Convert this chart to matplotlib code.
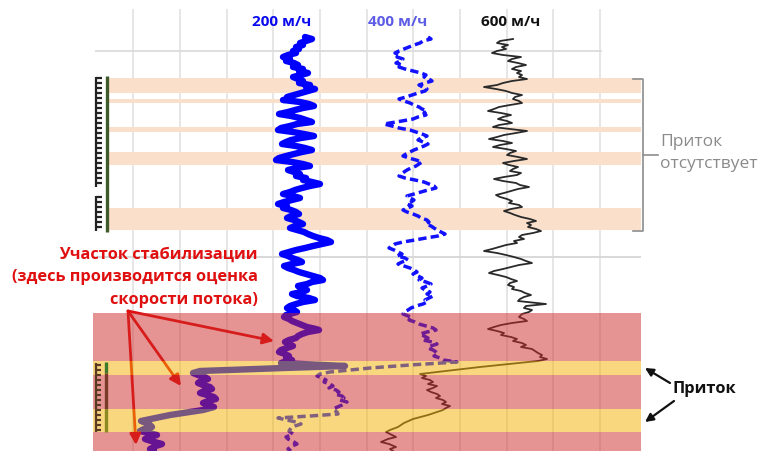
import matplotlib
matplotlib.use('Agg')
import matplotlib.pyplot as plt
from matplotlib.patches import Rectangle

# ---------------- data ----------------
speed_labels = ['200 м/ч', '400 м/ч', '600 м/ч']

depth_200 = [38, 40, 42, 44, 46, 48, 50, 52, 54, 56, 58, 60, 62, 64, 66, 68, 70, 72, 74, 76, 78, 80,
             82, 84, 86, 88, 90, 92, 94, 96, 98, 100, 101, 103, 105, 107, 109, 111, 113, 115, 117,
             119, 121, 123, 125, 127, 129, 131, 133, 135, 137, 139, 141, 143, 145, 147, 149, 151,
             153, 155, 157, 159, 161, 163, 165, 167, 169, 171, 173, 175, 177, 179, 181, 183, 185,
             187, 189, 191, 193, 195, 197, 199, 201, 203, 205, 207, 209, 211, 213, 215, 217, 219,
             221, 223, 225, 227, 229, 231, 233, 235, 237, 239, 241, 243, 245, 247, 249, 251, 253,
             255, 257, 259, 261, 263, 265, 267, 269, 271, 273, 275, 277, 279, 281, 283, 285, 287,
             289, 291, 293, 295, 297, 299, 301, 303, 305, 307, 309, 311, 313, 316, 318, 320, 322,
             324, 326, 328, 330, 331, 333, 335, 337, 339, 341, 343, 345, 347, 349, 351, 353, 355,
             357, 359, 361, 364, 367, 369, 372, 374, 376, 378, 380, 382, 384, 386, 388, 390, 392,
             394, 396, 398, 400, 402, 404, 406, 408, 411, 416, 422, 425, 428, 430, 432, 434, 436,
             438, 440, 442, 445, 447, 450, 452]
pos_200 = [305, 312, 306, 300, 303, 296, 299, 293, 296, 288, 283, 290, 286, 294, 298, 293, 303, 299,
           308, 301, 293, 298, 303, 299, 310, 306, 315, 308, 301, 294, 287, 292, 283, 300, 309, 314,
           303, 295, 288, 279, 291, 300, 306, 312, 297, 290, 281, 278, 293, 304, 314, 301, 291, 286,
           282, 296, 305, 312, 302, 294, 286, 279, 276, 292, 303, 310, 296, 288, 294, 300, 296, 306,
           303, 312, 320, 310, 302, 295, 290, 283, 293, 300, 292, 284, 278, 287, 283, 291, 296, 299,
           291, 287, 294, 299, 303, 295, 290, 297, 304, 308, 313, 319, 327, 331, 322, 313, 305, 296,
           289, 282, 288, 292, 298, 302, 292, 284, 288, 294, 299, 306, 313, 320, 323, 312, 307, 298,
           301, 307, 302, 292, 297, 309, 315, 303, 296, 290, 287, 294, 297, 286, 284, 289, 292, 297,
           302, 307, 316, 319, 308, 302, 298, 296, 289, 285, 289, 293, 287, 281, 279, 285, 289, 286,
           292, 281, 345, 284, 200, 193, 198, 205, 208, 201, 198, 203, 210, 212, 204, 200, 207, 214,
           216, 208, 203, 209, 214, 203, 170, 141, 149, 152, 144, 140, 149, 157, 150, 145, 151, 162,
           156, 150, 154]

depth_400 = [38, 40, 42, 44, 46, 48, 50, 52, 54, 56, 58, 60, 62, 64, 66, 68, 70, 72, 74, 76, 78, 80,
             82, 84, 86, 88, 90, 92, 94, 96, 98, 100, 102, 104, 106, 108, 110, 112, 114, 116, 118,
             120, 122, 124, 125, 127, 129, 131, 133, 135, 137, 139, 141, 143, 145, 147, 149, 151,
             153, 155, 157, 159, 161, 163, 165, 167, 169, 171, 173, 175, 177, 179, 181, 183, 185,
             187, 189, 191, 193, 195, 197, 199, 201, 203, 205, 207, 209, 211, 213, 215, 217, 219,
             221, 223, 225, 227, 229, 231, 233, 235, 237, 239, 241, 243, 245, 247, 249, 251, 253,
             255, 257, 259, 261, 263, 265, 267, 269, 271, 273, 275, 277, 279, 281, 283, 285, 287,
             289, 291, 293, 295, 297, 299, 301, 303, 305, 307, 309, 311, 313, 315, 317, 319, 321,
             323, 325, 327, 329, 331, 333, 335, 337, 339, 341, 343, 345, 347, 349, 351, 353, 355,
             357, 359, 361, 363, 366, 369, 373, 375, 377, 379, 381, 383, 385, 387, 389, 391, 393,
             395, 397, 399, 401, 403, 406, 410, 413, 415, 417, 419, 421, 423, 425, 427, 429, 432,
             435, 438, 440, 443, 445, 447, 450, 452]
pos_400 = [428, 431, 423, 420, 414, 409, 404, 399, 395, 400, 397, 403, 400, 396, 402, 399, 405, 413,
           421, 426, 424, 429, 432, 425, 419, 423, 427, 425, 418, 412, 406, 399, 404, 410, 414, 419,
           422, 427, 424, 426, 418, 413, 402, 390, 384, 392, 399, 410, 416, 422, 427, 421, 418, 423,
           428, 424, 419, 414, 410, 406, 403, 409, 416, 422, 419, 416, 411, 407, 404, 401, 399, 405,
           415, 424, 429, 434, 436, 428, 421, 414, 407, 410, 414, 411, 407, 412, 408, 403, 407, 413,
           418, 421, 427, 429, 426, 431, 434, 437, 441, 445, 438, 426, 415, 403, 395, 392, 389, 394,
           398, 402, 397, 405, 408, 402, 398, 404, 410, 414, 417, 413, 418, 422, 419, 426, 431, 427,
           422, 425, 430, 427, 433, 429, 425, 427, 423, 416, 411, 408, 404, 403, 408, 412, 409, 415,
           419, 426, 433, 436, 427, 420, 424, 428, 423, 432, 437, 431, 428, 433, 436, 438, 434, 440,
           443, 457, 410, 370, 330, 320, 317, 322, 326, 324, 330, 333, 329, 336, 339, 335, 342, 344,
           340, 347, 342, 333, 337, 338, 310, 278, 287, 296, 301, 295, 291, 289, 293, 286, 288, 294,
           297, 292, 288, 291]

depth_600 = [40, 42, 44, 46, 48, 50, 52, 54, 56, 58, 60, 62, 64, 66, 68, 70, 72, 74, 76, 78, 80, 82,
             84, 86, 88, 90, 92, 94, 96, 98, 100, 102, 104, 106, 108, 110, 112, 114, 116, 118, 120,
             122, 124, 126, 128, 130, 132, 134, 136, 138, 140, 142, 144, 146, 148, 150, 152, 154,
             156, 158, 160, 162, 164, 166, 168, 170, 172, 174, 176, 178, 180, 182, 184, 186, 188,
             190, 192, 194, 196, 198, 200, 202, 204, 206, 208, 210, 212, 214, 216, 218, 220, 222,
             224, 226, 228, 230, 232, 234, 236, 238, 240, 242, 244, 246, 248, 250, 252, 254, 256,
             258, 260, 262, 264, 266, 268, 270, 272, 274, 276, 278, 280, 282, 284, 286, 288, 290,
             292, 294, 296, 298, 300, 302, 304, 305, 307, 309, 311, 313, 315, 318, 320, 322, 324,
             326, 328, 330, 332, 334, 336, 338, 340, 342, 344, 346, 348, 350, 352, 354, 356, 358,
             360, 362, 368, 375, 377, 379, 381, 383, 385, 387, 389, 391, 393, 395, 397, 399, 401,
             403, 405, 407, 409, 411, 416, 420, 424, 428, 431, 433, 436, 438, 440, 443, 445, 448,
             450, 452]
pos_600 = [513, 500, 497, 508, 502, 506, 497, 492, 503, 521, 512, 508, 518, 526, 516, 512, 521, 517,
           522, 519, 527, 512, 503, 497, 484, 496, 506, 512, 522, 515, 513, 519, 522, 510, 499, 494,
           488, 501, 511, 503, 498, 507, 512, 499, 493, 510, 527, 516, 504, 497, 489, 503, 512, 500,
           493, 506, 516, 510, 507, 518, 527, 514, 503, 509, 518, 513, 510, 521, 517, 504, 494, 503,
           516, 520, 529, 518, 511, 504, 496, 500, 507, 512, 509, 519, 522, 511, 504, 510, 515, 521,
           530, 536, 527, 531, 528, 536, 541, 533, 522, 519, 524, 514, 517, 506, 499, 492, 484, 497,
           506, 514, 521, 526, 532, 519, 511, 503, 494, 489, 498, 506, 511, 517, 510, 508, 514, 512,
           521, 525, 531, 524, 520, 518, 536, 546, 526, 524, 532, 529, 522, 519, 524, 527, 512, 501,
           494, 488, 497, 504, 501, 511, 517, 513, 522, 526, 521, 532, 535, 538, 542, 540, 547, 538,
           480, 420, 426, 422, 430, 433, 428, 437, 433, 427, 431, 437, 440, 436, 443, 446, 442, 450,
           446, 443, 428, 413, 404, 398, 390, 386, 392, 396, 388, 381, 389, 396, 390, 393]

no_inflow_bands = [(79, 94), (100, 104), (128, 133), (153, 166), (209, 231)]
stab_zones = [(314, 362), (376, 410), (433, 452)]
inflow_zones = [(362, 376), (410, 433)]

red_text = ['Участок стабилизации', '(здесь производится оценка', 'скорости потока)']
note_no_inflow = ['Приток', 'отсутствует']
note_inflow = 'Приток'

# ---------------- layout ----------------
X0, X1 = 93, 641
grid_x = [133, 180, 227, 273, 320, 367, 413, 460, 507, 553, 600]

fig = plt.figure(figsize=(7.61, 4.52), dpi=100)
ax = fig.add_axes([0, 0, 1, 1])
ax.set_xlim(0, 761)
ax.set_ylim(452, 0)
ax.axis('off')

FONT = ['Open Sans', 'DejaVu Sans']

# grid
ax.vlines(grid_x, 10, 452, color='#e4e4e4', lw=1.3, zorder=1)
ax.hlines(52, 95, 602, color='#dcdcdc', lw=1.3, zorder=1)
ax.hlines(258, X0, X1, color='#d6d6d6', lw=1.3, zorder=1)

# no-inflow bands
for a, b in no_inflow_bands:
    ax.add_patch(Rectangle((107, a), X1 - 107, b - a, facecolor='#fae0cb', edgecolor='none', zorder=1.5))

# curves
ax.plot(pos_200, depth_200, color='#0000ff', lw=4.6, solid_joinstyle='round', solid_capstyle='round', zorder=3)
ax.plot(pos_400, depth_400, color='#1212ff', lw=2.5, linestyle=(0, (2.4, 1.2)), zorder=3)
ax.plot(pos_600, depth_600, color='#2a2a2a', lw=1.3, zorder=3)

# red arrows (under overlay)
tail = (128, 312)
for head in [(274, 342), (181, 387), (136, 446)]:
    ax.annotate('', xy=head, xytext=tail,
                arrowprops=dict(arrowstyle='-|>', color='#e01010', lw=2.0, mutation_scale=16,
                                shrinkA=0, shrinkB=0), zorder=3.5)

# overlay zones
for a, b in stab_zones:
    ax.add_patch(Rectangle((X0, a), X1 - X0, b - a, facecolor=(0.81, 0.16, 0.16), alpha=0.5,
                           edgecolor='none', zorder=4))
for a, b in inflow_zones:
    ax.add_patch(Rectangle((X0, a), X1 - X0, b - a, facecolor=(0.95, 0.69, 0.0), alpha=0.5,
                           edgecolor='none', zorder=4))

# depth combs (left)
def comb(y0, y1, color_teeth):
    ys = list(range(int(y0) + 2, int(y1), 5))
    ax.vlines(96, y0 + 1, y1 - 1, color=color_teeth, lw=1.6, zorder=5)
    ax.hlines(ys, 96, 102, color=color_teeth, lw=1.6, zorder=5)

comb(77, 189, '#222222')
comb(196, 233, '#222222')
ax.vlines(107, 77, 233, color='#3f5a2a', lw=2.4, zorder=5)
ax.vlines(96, 364, 433, color='#5a3a20', lw=1.6, zorder=5)
ax.hlines(list(range(366, 433, 5)), 96, 101, color='#5a3a20', lw=1.6, zorder=5)
ax.vlines(106, 363, 374, color='#3d7a2a', lw=2.4, zorder=5)
ax.vlines(106, 374, 410, color='#7a3a2a', lw=2.4, zorder=5)
ax.vlines(106, 410, 433, color='#8a8a20', lw=2.4, zorder=5)

# bracket
ax.plot([633, 643, 643, 633], [80, 80, 232, 232], color='#8c8c8c', lw=1.2, zorder=5)
ax.plot([643, 658], [156, 156], color='#8c8c8c', lw=1.2, zorder=5)

# headers
hdr_x = [282, 398, 511]
hdr_col = ['#0a0aee', '#5c5ce6', '#111111']
for lab, x, c in zip(speed_labels, hdr_x, hdr_col):
    ax.text(x, 22, lab, ha='center', va='center', fontsize=11, fontweight='bold', color=c,
            family=FONT, zorder=6)

# notes
ax.text(660, 142, note_no_inflow[0], ha='left', va='center', fontsize=12.5, color='#8a8a8a',
        family=FONT, zorder=6)
ax.text(660, 164, note_no_inflow[1], ha='left', va='center', fontsize=12.5, color='#8a8a8a',
        family=FONT, zorder=6)
for i, s in enumerate(red_text):
    ax.text(258, 255 + 22.5 * i, s, ha='right', va='center', fontsize=11.8, fontweight='bold',
            color='#e01010', family=FONT, zorder=6)
ax.text(673, 389, note_inflow, ha='left', va='center', fontsize=11.8, fontweight='bold',
        color='#111111', family=FONT, zorder=6)
for tail2, head2 in [((670, 384), (645, 369)), ((674, 402), (645, 423))]:
    ax.annotate('', xy=head2, xytext=tail2,
                arrowprops=dict(arrowstyle='-|>', color='#111111', lw=1.6, mutation_scale=12,
                                shrinkA=0, shrinkB=0), zorder=6)

fig.savefig('out.png', dpi=100)
